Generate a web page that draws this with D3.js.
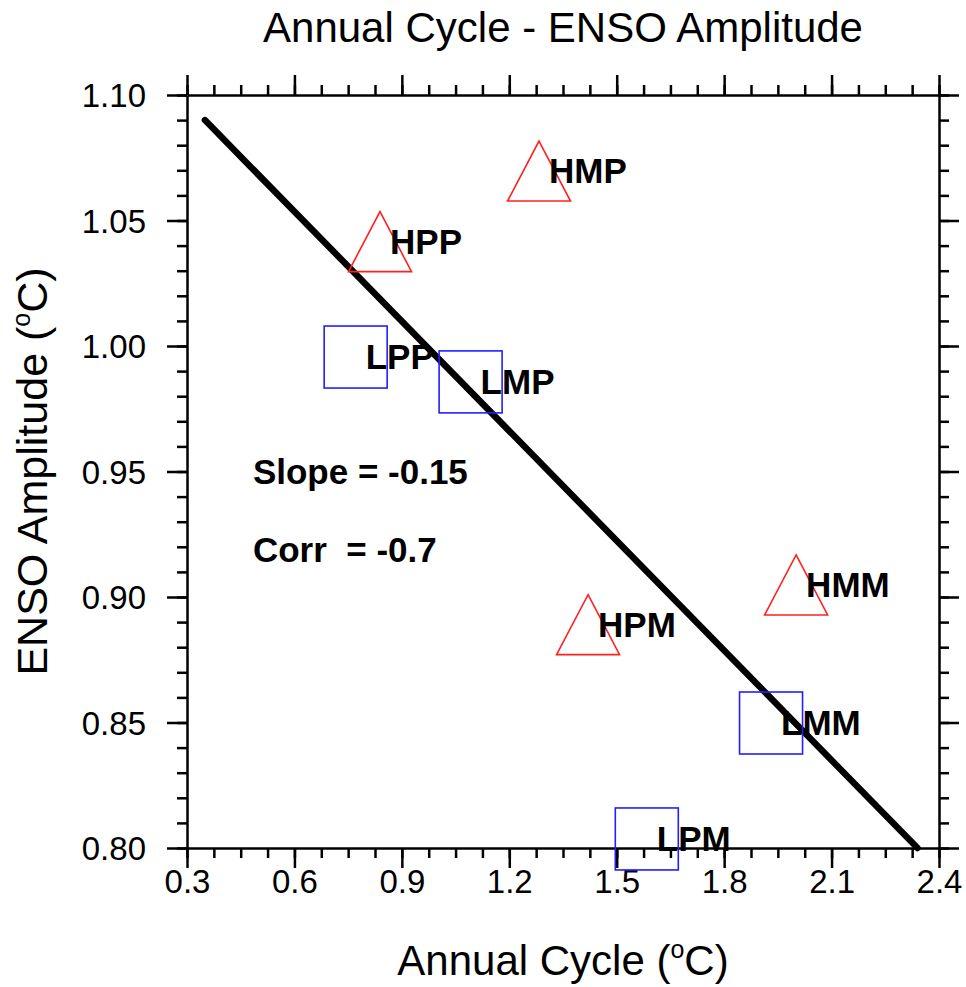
<!DOCTYPE html>
<html>
<head>
<meta charset="utf-8">
<script src="https://cdn.jsdelivr.net/npm/d3@7"></script>
<style>
  body { margin: 0; background: #fff; }
  text { font-family: "Liberation Sans", Arial, Helvetica, sans-serif; fill: #000; }
</style>
</head>
<body>
<div id="chart"></div>
<script>
const runNames = ["HPP", "HMP", "HPM", "HMM", "LPP", "LMP", "LMM", "LPM"];
const runGroup = ["H", "H", "H", "H", "L", "L", "L", "L"];
const annualCycle = [0.839, 1.283, 1.420, 2.001, 0.771, 1.092, 1.931, 1.584];
const ensoAmp = [1.0416, 1.0697, 0.889, 0.9048, 0.9956, 0.9857, 0.8498, 0.8036];

// regression line end points
const fitX = [0.35, 2.34];
const fitY = [1.09, 0.80];

// tick labels
const xTicks = [0.3, 0.6, 0.9, 1.2, 1.5, 1.8, 2.1, 2.4];
const yTicks = [0.80, 0.85, 0.90, 0.95, 1.00, 1.05, 1.10];

// annotation text
const statText = ["Slope = -0.15", "Corr  = -0.7"];
const statY = [0.95, 0.919];
const statX = 0.484;

// set the dimensions and margins of the graph
var margin = {top: 95, right: 27, bottom: 139, left: 187},
    width = 966 - margin.left - margin.right,
    height = 987 - margin.top - margin.bottom;

var svg = d3.select("#chart")
  .append("svg")
  .attr("width", 966)
  .attr("height", 987);

var g = svg.append("g")
  .attr("transform", "translate(" + margin.left + "," + margin.top + ")");

var x = d3.scaleLinear().domain([0.3, 2.4]).range([0, width]);
var y = d3.scaleLinear().domain([0.80, 1.10]).range([height, 0]);

var xMinor = d3.range(0, 29).map(i => 0.3 + i * 0.075);
var yMinor = d3.range(0, 31).map(i => 0.80 + i * 0.01);

// draws the minor + major ticks of one side
function addAxis(axisFn, scale, major, minor, transform, labels) {
  var minorG = g.append("g").attr("transform", transform)
    .call(axisFn(scale).tickValues(minor).tickSize(10).tickFormat(""));
  var majorG = g.append("g").attr("transform", transform)
    .call(axisFn(scale).tickValues(major).tickSize(20).tickSizeOuter(0).tickFormat(labels ? labels : ""));
  [minorG, majorG].forEach(a => {
    a.selectAll("line").attr("stroke", "#000").attr("stroke-width", 2.5);
    a.select(".domain").attr("stroke", "#000").attr("stroke-width", 2.5);
  });
  minorG.select(".domain").remove();
  return majorG;
}

var bx = addAxis(d3.axisBottom, x, xTicks, xMinor, "translate(0," + height + ")", d => d3.format(".1f")(d));
bx.selectAll("text").attr("font-size", 33).attr("dy", 0).attr("y", 45).attr("font-family", "Liberation Sans");
addAxis(d3.axisTop, x, xTicks, xMinor, "translate(0,0)", null);

var ly = addAxis(d3.axisLeft, y, yTicks, yMinor, "translate(0,0)", d => d3.format(".2f")(d));
ly.selectAll("text").attr("font-size", 33).attr("x", -41).attr("dy", "0.36em").attr("font-family", "Liberation Sans");
addAxis(d3.axisRight, y, yTicks, yMinor, "translate(" + width + ",0)", null);

// regression line
var fit = fitX.map((v, i) => ({x: v, y: fitY[i]}));
g.append("path")
  .datum(fit)
  .attr("d", d3.line().x(d => x(d.x)).y(d => y(d.y)))
  .attr("fill", "none")
  .attr("stroke", "#000")
  .attr("stroke-width", 6.5)
  .attr("stroke-linecap", "round");

// markers
var pts = runNames.map((n, i) => ({name: n, grp: runGroup[i], x: annualCycle[i], y: ensoAmp[i]}));

var m = g.selectAll(".pt").data(pts).enter().append("g")
  .attr("class", "pt")
  .attr("transform", d => "translate(" + x(d.x) + "," + y(d.y) + ")");

m.filter(d => d.grp == "H").append("path")
  .attr("d", "M0,-30L31.5,30L-31.5,30Z")
  .attr("fill", "none")
  .attr("stroke", "#ff2020")
  .attr("stroke-width", 1.6);

m.filter(d => d.grp == "L").append("rect")
  .attr("x", -31.5).attr("y", -31)
  .attr("width", 63).attr("height", 62)
  .attr("fill", "none")
  .attr("stroke", "#2020ff")
  .attr("stroke-width", 1.6);

m.append("text")
  .attr("x", 10)
  .attr("y", 12)
  .attr("font-size", 35)
  .attr("font-weight", "bold")
  .text(d => d.name);

// slope / corr text
g.selectAll(".stat").data(statText).enter().append("text")
  .attr("class", "stat")
  .attr("x", x(statX))
  .attr("y", (d, i) => y(statY[i]))
  .attr("dy", "0.36em")
  .attr("font-size", 35)
  .attr("font-weight", "bold")
  .style("white-space", "pre")
  .text(d => d);

// title
svg.append("text")
  .attr("x", margin.left + width / 2)
  .attr("y", 42)
  .attr("text-anchor", "middle")
  .attr("font-size", 42)
  .text("Annual Cycle - ENSO Amplitude");

// x axis title
var xt = svg.append("text")
  .attr("x", margin.left + width / 2)
  .attr("y", 975)
  .attr("text-anchor", "middle")
  .attr("font-size", 42);
xt.append("tspan").text("Annual Cycle (");
xt.append("tspan").attr("font-size", 25).attr("dy", -17).text("o");
xt.append("tspan").attr("dy", 17).text("C)");

// y axis title
var yt = svg.append("text")
  .attr("transform", "translate(47," + (margin.top + height / 2) + ") rotate(-90)")
  .attr("text-anchor", "middle")
  .attr("font-size", 43);
yt.append("tspan").text("ENSO Amplitude (");
yt.append("tspan").attr("font-size", 25).attr("dy", -17).text("o");
yt.append("tspan").attr("dy", 17).text("C)");
</script>
</body>
</html>
